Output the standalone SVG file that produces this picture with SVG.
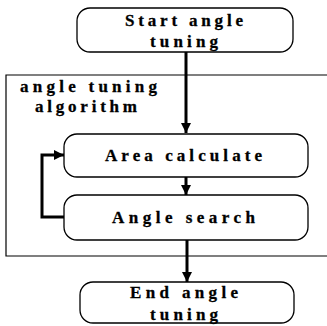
<svg xmlns="http://www.w3.org/2000/svg" width="327" height="326" viewBox="0 0 327 326">
<defs>
<style>
.box{fill:#fff;stroke:#000;stroke-width:1.3}
.frame{fill:none;stroke:#000;stroke-width:1.2}
.t{font-family:"Liberation Serif","Times New Roman",serif;font-weight:bold;font-size:17px;fill:#000;stroke:#000;stroke-width:0.3}
.ln{fill:none;stroke:#000;stroke-width:3}
</style>
<marker id="ah" markerUnits="userSpaceOnUse" markerWidth="12" markerHeight="12" refX="10" refY="6" orient="auto">
<path d="M0,1 L10,6 L0,11 Z" fill="#000"/>
</marker>
</defs>
<rect fill="#fff" width="327" height="326"/>
<g id="frame">
<path class="frame" d="M327,75 H6 V256 H327"/>
<text class="t" x="20" y="92" textLength="137" lengthAdjust="spacing">angle tuning</text>
<text class="t" x="35" y="112" textLength="102" lengthAdjust="spacing">algorithm</text>
</g>
<g id="connectors">
<line class="ln" x1="186" y1="52" x2="186" y2="133" marker-end="url(#ah)"/>
<line class="ln" x1="186" y1="177" x2="186" y2="195" marker-end="url(#ah)"/>
<line class="ln" x1="187" y1="240" x2="187" y2="282" marker-end="url(#ah)"/>
<polyline class="ln" points="64,217 42,217 42,155 64,155" marker-end="url(#ah)"/>
</g>
<g id="start">
<rect class="box" x="77" y="8" width="216" height="44" rx="13"/>
<text class="t" x="125" y="26" textLength="118" lengthAdjust="spacing">Start angle</text>
<text class="t" x="150" y="47" textLength="68" lengthAdjust="spacing">tuning</text>
</g>
<g id="area">
<rect class="box" x="64" y="134" width="244" height="43" rx="13"/>
<text class="t" x="105" y="161" textLength="157" lengthAdjust="spacing">Area calculate</text>
</g>
<g id="search">
<rect class="box" x="64" y="195" width="244" height="45" rx="13"/>
<text class="t" x="112" y="223" textLength="143" lengthAdjust="spacing">Angle search</text>
</g>
<g id="end">
<rect class="box" x="80" y="282" width="214" height="41" rx="13"/>
<text class="t" x="130" y="298" textLength="108" lengthAdjust="spacing">End angle</text>
<text class="t" x="150" y="320" textLength="68" lengthAdjust="spacing">tuning</text>
</g>
</svg>
